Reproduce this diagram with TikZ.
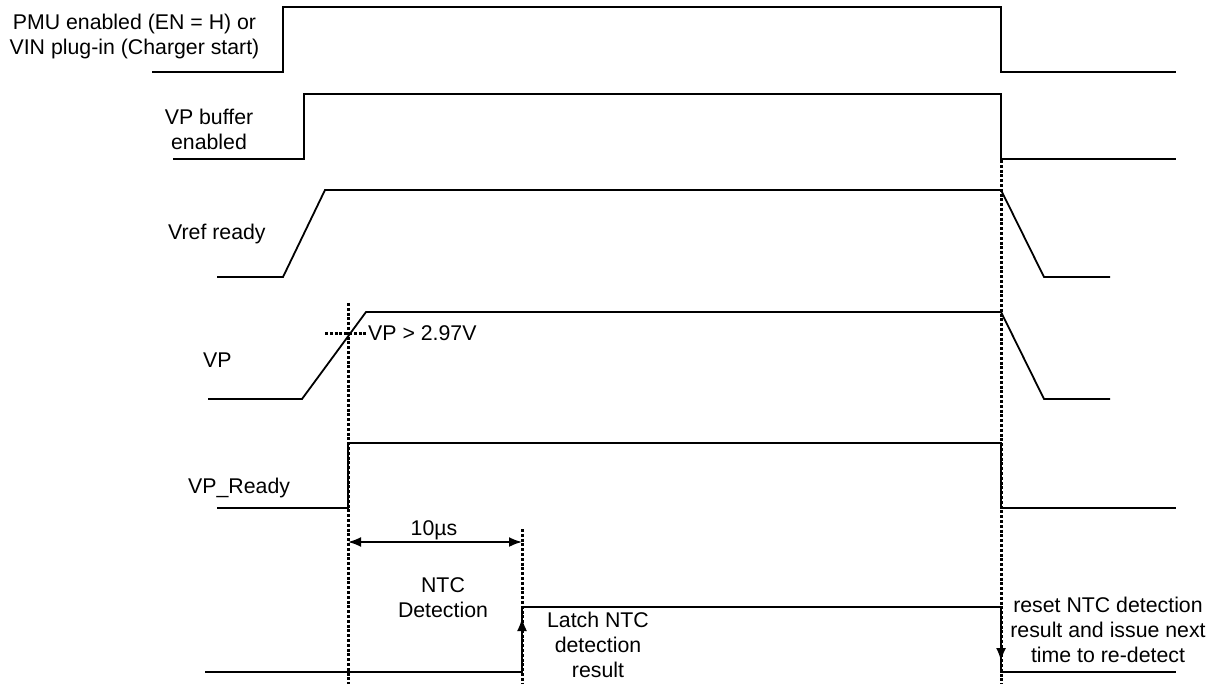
\documentclass[tikz,border=0pt]{standalone}
\usepackage{fontspec}
\setmainfont{Liberation Sans}
\usetikzlibrary{arrows.meta}
\begin{document}
\begin{tikzpicture}[x=1pt,y=-1pt,
  sig/.style={line width=1.8pt,line join=miter},
  guide/.style={line width=3pt,dash pattern=on 3pt off 1.8pt},
  lbl/.style={inner sep=0pt,font=\fontsize{21.3}{25}\selectfont},
  mlbl/.style={lbl,align=center},
  tip/.style={-{Latex[length=13pt,width=10pt]}},
  dim/.style={line width=1.8pt,{Latex[length=13pt,width=10pt]}-{Latex[length=13pt,width=10pt]}}]
\useasboundingbox (0,0) rectangle (1221,684);
% signals
\draw[sig] (152,72) -- (283,72) -- (283,7) -- (1001,7) -- (1001,72) -- (1176,72);
\draw[sig] (173,159) -- (304,159) -- (304,94) -- (1001,94) -- (1001,159) -- (1176,159);
\draw[sig] (217,277) -- (283,277) -- (325,190) -- (1001,190) -- (1044,277) -- (1110,277);
\draw[sig] (208,399) -- (302,399) -- (366,312) -- (1001,312) -- (1044,399) -- (1110,399);
\draw[sig] (217,508) -- (348,508) -- (348,443) -- (1001,443) -- (1001,508) -- (1176,508);
\draw[sig] (205,672) -- (522,672) -- (522,607) -- (1001,607) -- (1001,672) -- (1176,672);
% guides
\coordinate (g1t) at (348,303); \coordinate (g1b) at (348,684);
\coordinate (g2t) at (522,529); \coordinate (g2b) at (522,684);
\coordinate (g3t) at (1001,160); \coordinate (g3b) at (1001,684);
\coordinate (hL) at (325,334); \coordinate (hR) at (368,334);
\draw[guide] (g1t) -- (g1b);
\draw[guide] (g2t) -- (g2b);
\draw[guide] (g3t) -- (g3b);
\draw[guide] (hL) -- (hR);
% arrows
\coordinate (dL) at (348,542); \coordinate (dR) at (522,542);
\draw[dim] (dL) -- (dR);
\coordinate (upA) at (522,672); \coordinate (upB) at (522,618);
\draw[sig,tip] (upA) -- (upB);
\coordinate (dnA) at (1001,607); \coordinate (dnB) at (1001,661);
\draw[sig,tip] (dnA) -- (dnB);
% labels (multi-line nodes: base = last line's baseline)
\node[mlbl,anchor=base] (pmu) at (134.5,55) {PMU enabled (EN = H) or\\VIN plug-in (Charger start)};
\node[mlbl,anchor=base] (vpb) at (209,150) {VP buffer\\enabled};
\node[lbl,anchor=base west] (vref) at (168,240) {Vref ready};
\node[lbl,anchor=base west] (vp) at (203,368) {VP};
\node[lbl,anchor=base west] (vpr) at (188,493) {VP\_Ready};
\node[lbl,anchor=base west] (thr) at (368,341) {VP > 2.97V};
\node[lbl,anchor=base] (t10) at (434,535) {10µs};
\node[mlbl,anchor=base] (ntc) at (443,617) {NTC\\Detection};
\node[mlbl,anchor=base] (latch) at (598,677) {Latch NTC\\detection\\result};
\node[mlbl,anchor=base] (reset) at (1108,662) {reset NTC detection\\result and issue next\\time to re-detect};
\end{tikzpicture}
\end{document}
